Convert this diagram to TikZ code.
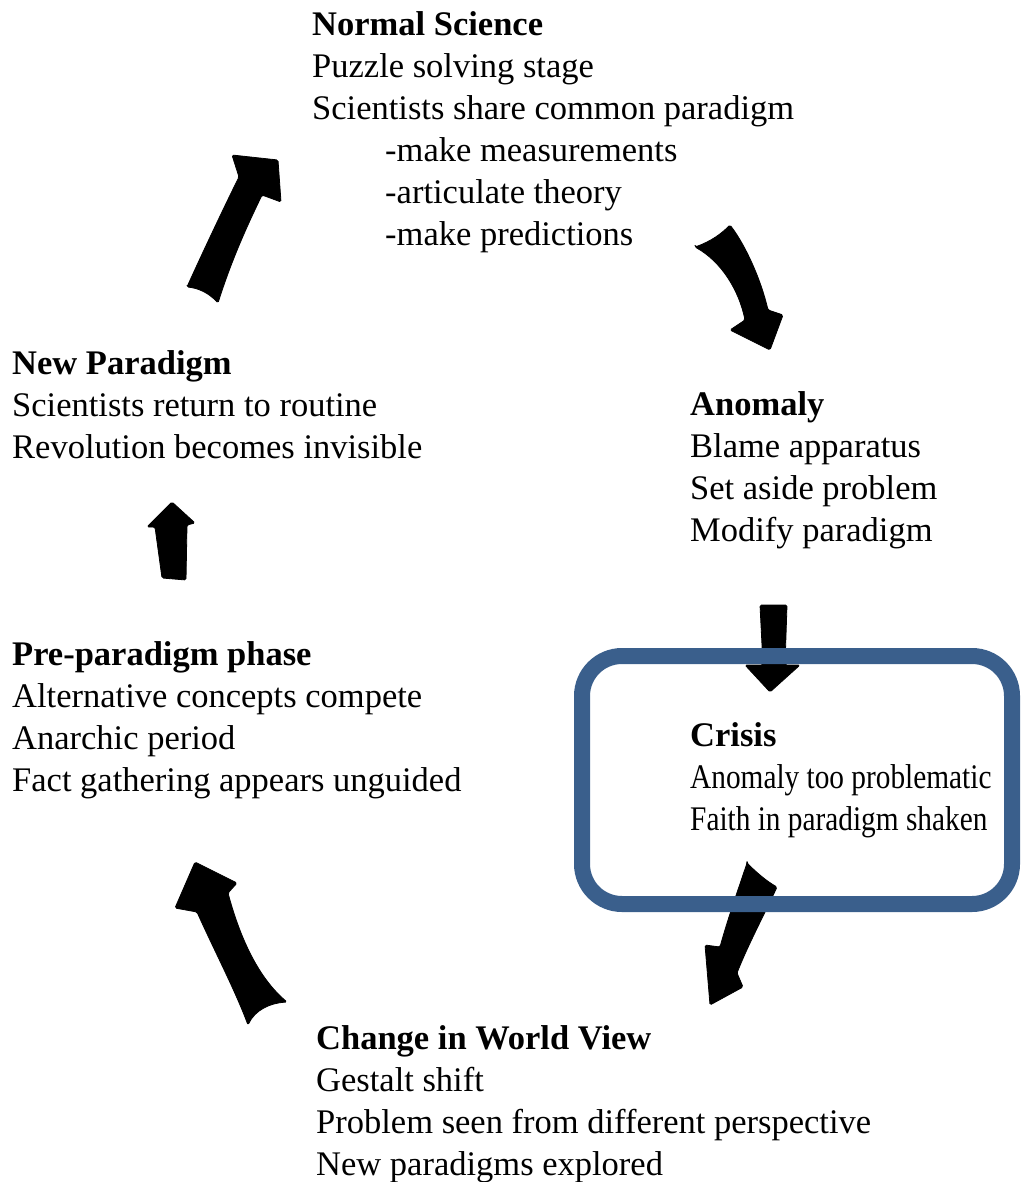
\documentclass[tikz,border=0pt]{standalone}
\usepackage{fontspec}
\setmainfont{Liberation Serif}
\newfontfamily\narrowserif[FakeStretch=0.85]{Liberation Serif}
\definecolor{boxblue}{RGB}{58,95,140}
\tikzset{
  stage/.style={anchor=base west, inner sep=0pt, font=\fontsize{34.5}{42}\selectfont},
  blockarrow/.style={fill=black, draw=black, line width=0.8pt, line join=round, rounded corners=1.5pt},
  framebox/.style={draw=boxblue, line width=16pt, rounded corners=40pt,
    minimum width=430pt, minimum height=248pt, inner sep=0pt}
}
\begin{document}
\begin{tikzpicture}[x=1pt,y=-1pt]
\useasboundingbox (0,0) rectangle (1021,1182);

% cycle arrows, drawn as filled hand-cut shapes
% Normal Science <- New Paradigm
\path[blockarrow] (187,287) .. controls (200,258) and (225,205) .. (239,177)
  -- (232,155) -- (278,160) -- (281,202) -- (262,195)
  .. controls (254,212) and (234,252) .. (218,303)
  .. controls (208,292) and (197,288) .. cycle;
% Normal Science -> Anomaly
\path[blockarrow] (695,247) .. controls (712,241) and (722,233) .. (730,225)
  .. controls (746,246) and (761,280) .. (768,310)
  -- (783,315) -- (770,350) -- (730,330) -- (745,320)
  .. controls (739,291) and (722,262) .. cycle;
% Anomaly -> Crisis
\path[blockarrow] (760,605) -- (787,605) -- (785,665) -- (800,665)
  -- (770,692) -- (745,665) -- (763,665) -- cycle;
% Crisis -> Change in World View
\path[blockarrow] (747,863) .. controls (758,874) and (768,882) .. (777,887)
  .. controls (765,913) and (748,945) .. (737,973)
  -- (743,987) -- (710,1005) -- (705,945) -- (720,947)
  .. controls (728,918) and (738,890) .. cycle;
% Change in World View -> Pre-paradigm phase
\path[blockarrow] (195,862) -- (237,883) -- (228,893)
  .. controls (238,930) and (255,975) .. (287,1002)
  .. controls (270,1003) and (255,1010) .. (248,1025)
  .. controls (235,990) and (214,950) .. (197,912)
  -- (175,908) -- cycle;
% Pre-paradigm phase -> New Paradigm
\path[blockarrow] (172,502) -- (195,523) -- (187,525) -- (186,580)
  -- (162,578) -- (155,527) -- (147,527) -- cycle;

% frame around the crisis stage
\node[framebox] (crisisframe) at (797,780) {};

% stage descriptions
\node[stage] (normal) at (312,36) {\begin{tabular}[t]{@{}l@{}}
  \textbf{Normal Science}\\
  Puzzle solving stage\\
  Scientists share common paradigm\\
  \hspace*{73pt}-make measurements\\
  \hspace*{73pt}-articulate theory\\
  \hspace*{73pt}-make predictions
\end{tabular}};

\node[stage] (newpar) at (12,374) {\begin{tabular}[t]{@{}l@{}}
  \textbf{New Paradigm}\\
  Scientists return to routine\\
  Revolution becomes invisible
\end{tabular}};

\node[stage] (anomaly) at (690,415) {\begin{tabular}[t]{@{}l@{}}
  \textbf{Anomaly}\\
  Blame apparatus\\
  Set aside problem\\
  Modify paradigm
\end{tabular}};

\node[stage] (prepar) at (12,665) {\begin{tabular}[t]{@{}l@{}}
  \textbf{Pre-paradigm phase}\\
  Alternative concepts compete\\
  Anarchic period\\
  Fact gathering appears unguided
\end{tabular}};

\node[stage] (crisis) at (690,746) {\begin{tabular}[t]{@{}l@{}}
  \textbf{Crisis}\\
  {\narrowserif Anomaly too problematic}\\
  {\narrowserif Faith in paradigm shaken}
\end{tabular}};

\node[stage] (worldview) at (316,1049) {\begin{tabular}[t]{@{}l@{}}
  \textbf{Change in World View}\\
  Gestalt shift\\
  Problem seen from different perspective\\
  New paradigms explored
\end{tabular}};
\end{tikzpicture}
\end{document}
